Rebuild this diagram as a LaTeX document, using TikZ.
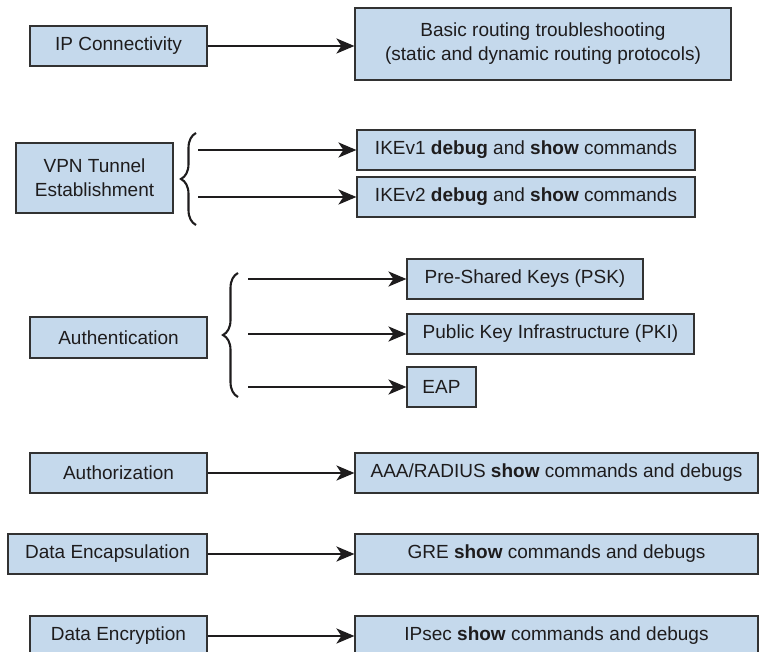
\documentclass[tikz,border=0pt]{standalone}
\usepackage{fontspec}
\setmainfont{Liberation Sans}
\usetikzlibrary{arrows.meta,decorations.pathreplacing}
\definecolor{boxfill}{RGB}{197,217,236}
\definecolor{boxline}{RGB}{50,50,50}
\definecolor{ink}{RGB}{30,28,29}

\begin{document}
\begin{tikzpicture}[x=1pt,y=-1pt,
  box/.style={draw=boxline,fill=boxfill,line width=1.1pt,text=ink,inner sep=0pt,
     font=\fontsize{19}{24}\selectfont,align=center,minimum height=40pt},
  arr/.style={-{Stealth[length=18pt,width=15pt,inset=5pt]},line width=2.7pt,draw=ink,fill=ink},
  brc/.style={decorate,decoration={brace,amplitude=15pt},line width=2.1pt,draw=ink}]
  \useasboundingbox (0,0) rectangle (762,652);

  % left column
  \node[box,minimum width=177pt] (ip) at (118.5,46) {IP Connectivity};
  \node[box,minimum width=157pt,minimum height=70pt] (vpn) at (94.5,178) {VPN Tunnel\\Establishment};
  \node[box,minimum width=177pt,minimum height=41pt] (auth) at (118.5,337.5) {Authentication};
  \node[box,minimum width=177pt] (authz) at (118.5,473) {Authorization};
  \node[box,minimum width=199pt] (encap) at (107.5,554) {Data Encapsulation};
  \node[box,minimum width=177pt] (encr) at (118.5,636) {Data Encryption};

  % right column
  \node[box,minimum width=376pt,minimum height=72pt] (basic) at (543,44)
     {Basic routing troubleshooting\\(static and dynamic routing protocols)};
  \node[box,minimum width=338pt] (ike1) at (526,150) {IKEv1 \textbf{debug} and \textbf{show} commands};
  \node[box,minimum width=338pt] (ike2) at (526,197) {IKEv2 \textbf{debug} and \textbf{show} commands};
  \node[box,minimum width=236pt] (psk) at (525,279) {Pre-Shared Keys (PSK)};
  \node[box,minimum width=287pt] (pki) at (550.5,334) {Public Key Infrastructure (PKI)};
  \node[box,minimum width=69pt] (eap) at (441.5,387) {EAP};
  \node[box,minimum width=403pt] (aaa) at (556.5,473) {AAA/RADIUS \textbf{show} commands and debugs};
  \node[box,minimum width=403pt] (gre) at (556.5,554) {GRE \textbf{show} commands and debugs};
  \node[box,minimum width=403pt] (ipsec) at (556.5,636) {IPsec \textbf{show} commands and debugs};

  % braces
  \draw[brc] (196,225) -- (196,133);
  \draw[brc] (238,397) -- (238,273);
  \coordinate (v1) at (198,150);
  \coordinate (v2) at (198,197);
  \coordinate (a1) at (248,279);
  \coordinate (a2) at (248,334);
  \coordinate (a3) at (248,387);

  % connectors
  \draw[arr] (ip.east) -- (ip.east -| basic.west);
  \draw[arr] (v1) -- (ike1.west);
  \draw[arr] (v2) -- (ike2.west);
  \draw[arr] (a1) -- (psk.west);
  \draw[arr] (a2) -- (pki.west);
  \draw[arr] (a3) -- (eap.west);
  \draw[arr] (authz) -- (aaa);
  \draw[arr] (encap) -- (gre);
  \draw[arr] (encr) -- (ipsec);
\end{tikzpicture}
\end{document}
